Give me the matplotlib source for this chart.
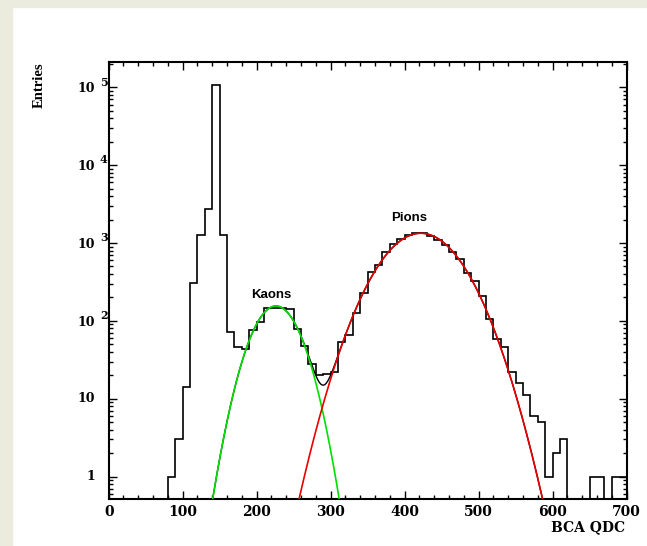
import numpy as np
import matplotlib.pyplot as plt
from matplotlib.patches import Rectangle
from matplotlib.ticker import MultipleLocator, LogLocator, NullFormatter

# BCA QDC spectrum, 10-channel bins from 0 to 700
bin_edges = np.arange(0, 710, 10)
entries = [
    0, 0, 0, 0, 0, 0, 0, 0, 1, 3,                          # 0 - 100
    14, 310, 1260, 2700, 107000, 1260, 71, 46, 44, 77,     # 100 - 200
    98, 145, 147, 147, 142, 78, 47, 28, 20, 21,            # 200 - 300
    22, 53, 66, 125, 228, 420, 522, 755, 970, 1125,        # 300 - 400
    1280, 1340, 1335, 1240, 1080, 945, 770, 630, 408, 325, # 400 - 500
    208, 105, 58, 46, 22, 16, 11, 6, 5, 1,                 # 500 - 600
    2, 3, 0, 0, 0, 1, 1, 0, 1, 1,                          # 600 - 700
]

# gaussian fit parameters (amplitude, mean, sigma)
kaon_fit = (155.0, 226.0, 25.3)
pion_fit = (1334.0, 421.8, 41.5)

decades = [1, 10, 100, 1000, 10000, 100000]

BG = "#ececde"
SERIF = "DejaVu Serif"


def gauss(x, amp, mean, sigma):
    return amp * np.exp(-0.5 * ((x - mean) / sigma) ** 2)


def draw_histogram(ax):
    counts = np.array(entries, dtype=float)
    counts = np.where(counts > 0, counts, 1e-3)
    ax.stairs(counts, bin_edges, baseline=1e-3, color="black", lw=1.2, zorder=2)


def draw_fits(ax):
    x_tot = np.linspace(130, 600, 1200)
    total = gauss(x_tot, *kaon_fit) + gauss(x_tot, *pion_fit)
    ax.plot(x_tot, total, color="black", lw=1.0, zorder=3)

    x_k = np.linspace(120, 340, 600)
    ax.plot(x_k, gauss(x_k, *kaon_fit), color="#00e000", lw=1.2, zorder=4)
    x_p = np.linspace(230, 620, 900)
    ax.plot(x_p, gauss(x_p, *pion_fit), color="#e80000", lw=1.2, zorder=4)

    ax.text(219, 215, "Kaons", ha="center", va="center",
            family="Liberation Sans", weight="bold", fontsize=9.5)
    ax.text(405.7, 2120, "Pions", ha="center", va="center",
            family="Liberation Sans", weight="bold", fontsize=9.5)


def style_axes(ax):
    ax.set_xlim(0, 700)
    ax.set_yscale("log")
    ax.set_ylim(0.51, 2.13e5)

    ax.xaxis.set_major_locator(MultipleLocator(100))
    ax.xaxis.set_minor_locator(MultipleLocator(20))
    ax.yaxis.set_major_locator(LogLocator(base=10, numticks=12))
    ax.yaxis.set_minor_locator(LogLocator(base=10, subs=np.arange(2, 10), numticks=30))
    ax.yaxis.set_major_formatter(NullFormatter())
    ax.yaxis.set_minor_formatter(NullFormatter())

    ax.tick_params(which="both", direction="in", top=True, right=True, width=1.0)
    ax.tick_params(which="major", length=6)
    ax.tick_params(which="minor", length=3)
    ax.tick_params(axis="x", pad=4)
    for lab in ax.get_xticklabels():
        lab.set_family(SERIF)
        lab.set_weight("bold")
        lab.set_fontsize(10)
    for sp in ax.spines.values():
        sp.set_linewidth(1.5)

    # ROOT-style log labels: "10" with a raised exponent
    for val in decades:
        if val < 100:
            ax.annotate(str(val), xy=(0, val), xycoords=("axes fraction", "data"),
                        xytext=(-10, 0), textcoords="offset points",
                        ha="right", va="center", family=SERIF, weight="bold",
                        fontsize=9)
        else:
            ax.annotate("10", xy=(0, val), xycoords=("axes fraction", "data"),
                        xytext=(-10, -1.2), textcoords="offset points",
                        ha="right", va="center", family=SERIF, weight="bold",
                        fontsize=9)
            ax.annotate(str(int(np.log10(val))), xy=(0, val),
                        xycoords=("axes fraction", "data"),
                        xytext=(-6.3, 7.7), textcoords="offset points",
                        ha="left", va="top", family=SERIF, weight="bold",
                        fontsize=8)


fig = plt.figure(figsize=(6.47, 5.46), dpi=100)
fig.patches.append(Rectangle((0, 0), 12 / 647, 1, transform=fig.transFigure,
                             color=BG, zorder=0))
fig.patches.append(Rectangle((0, 1 - 7 / 546), 1, 7 / 546, transform=fig.transFigure,
                             color=BG, zorder=0))

ax = fig.add_axes([0.168, 0.0855, 0.8006, 0.8015])
draw_histogram(ax)
draw_fits(ax)
style_axes(ax)

fig.text(625 / 647, 1 - 527 / 546, "BCA QDC", ha="right", va="center",
         family=SERIF, weight="bold", fontsize=10)
fig.text(39 / 647, 1 - 62 / 546, "Entries", rotation=90, ha="center", va="top",
         family="Liberation Serif", weight="bold", fontsize=10.5)

fig.savefig("out.png", dpi=100)
